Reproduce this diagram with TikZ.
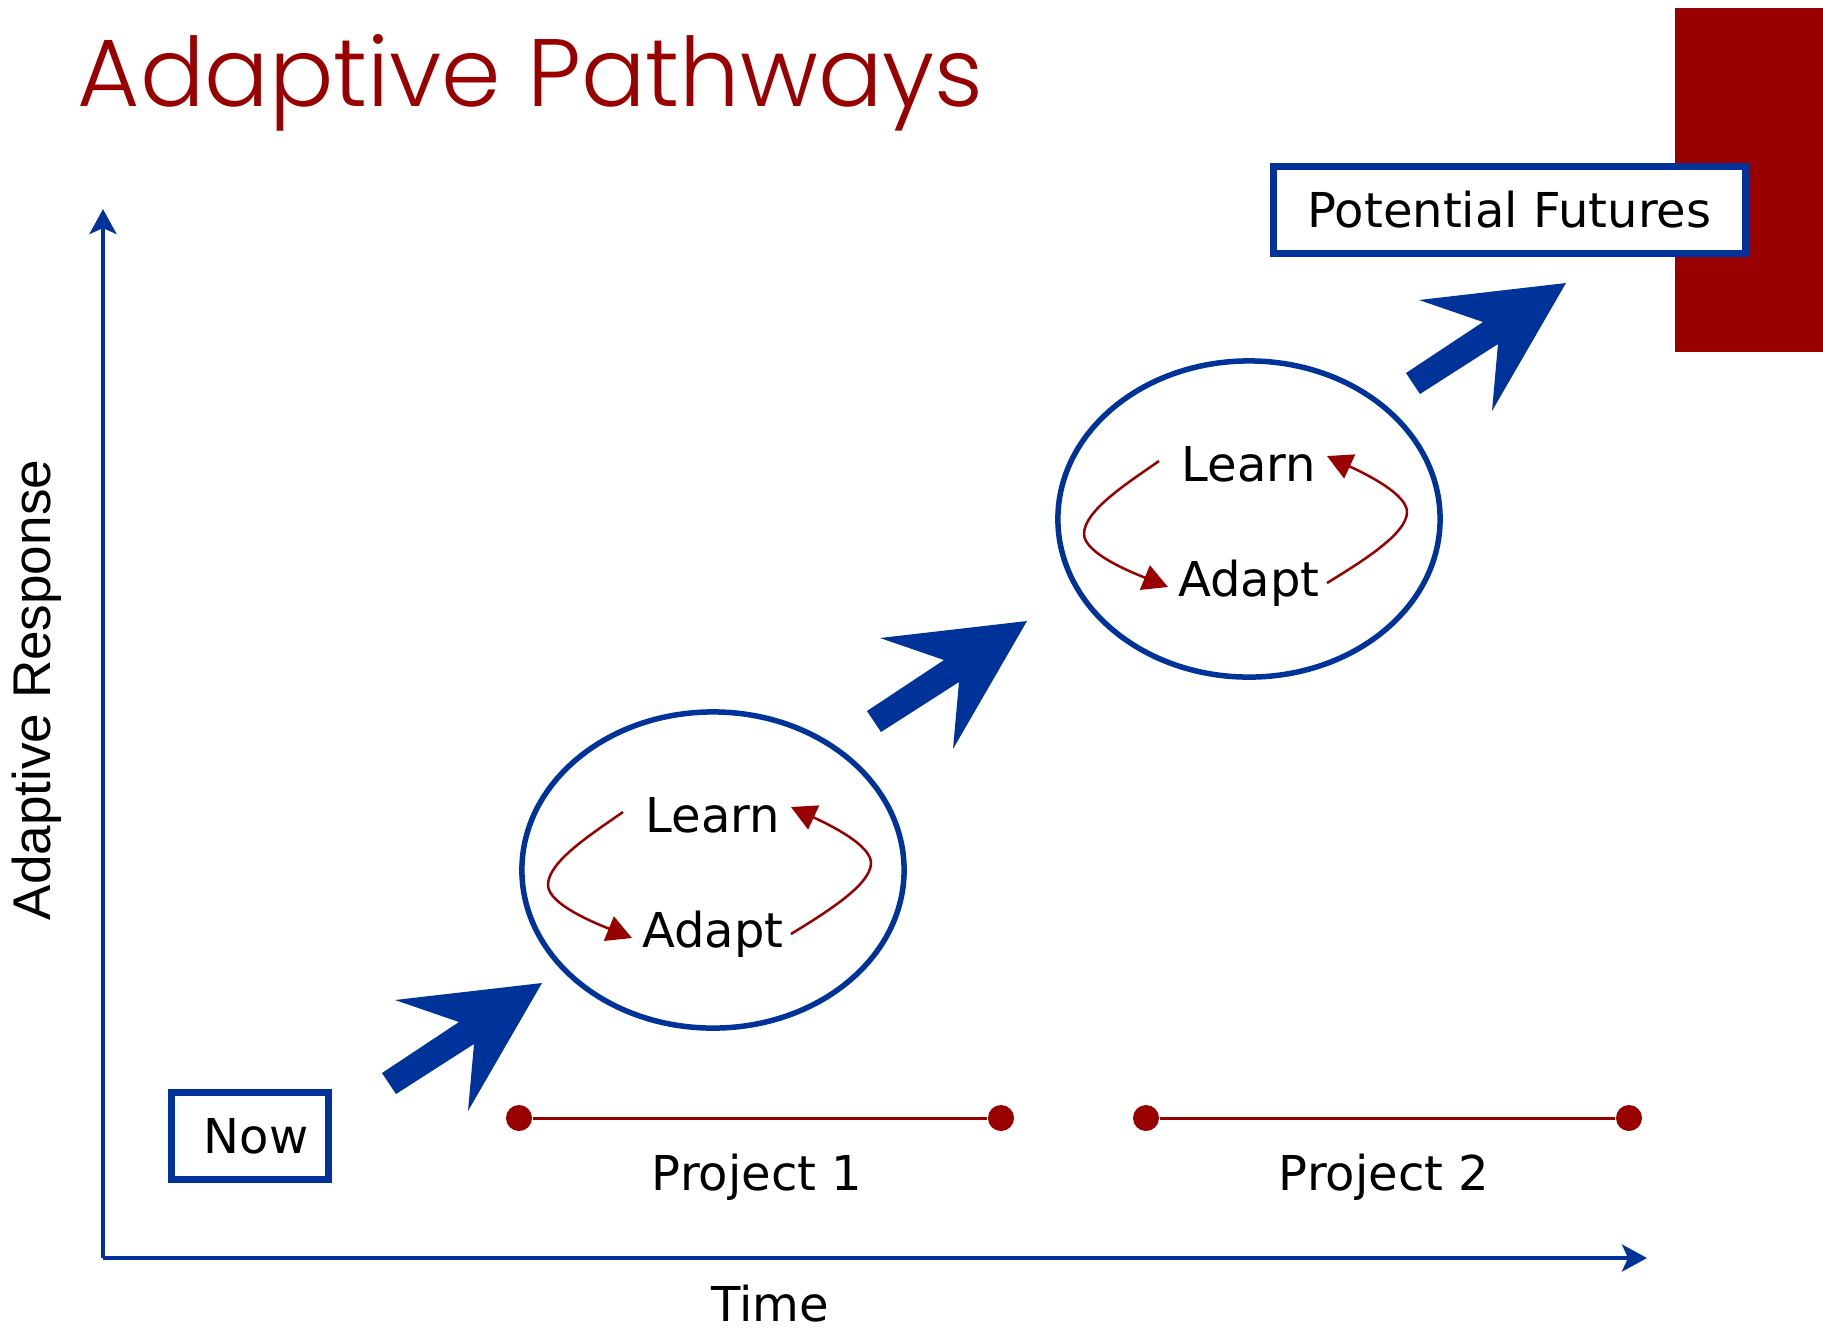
\documentclass[tikz,border=0pt]{standalone}
\usepackage{fontspec}
\setmainfont{DejaVu Sans}
\newfontfamily\arialfont{Liberation Sans}
\newfontfamily\titlefont{Poppins Light}
\usetikzlibrary{arrows.meta,shapes.geometric}
\definecolor{pblue}{RGB}{0,51,153}
\definecolor{pred}{RGB}{153,0,0}
\tikzset{
  bodytext/.style={font=\fontsize{13.66pt}{16pt}\selectfont, text=black, inner sep=0pt},
  labelbox/.style={draw=pblue, line width=0.07cm, fill=white, inner sep=0pt,
    font=\fontsize{13.66pt}{16pt}\selectfont},
  loopnode/.style={draw=pblue, line width=0.055cm, ellipse, inner sep=0pt,
    minimum width=3.82cm, minimum height=3.16cm},
  loopcurve/.style={draw=pred, line width=0.025cm, -{Triangle[length=0.25cm,width=0.26cm]}},
  axisline/.style={draw=pblue, line width=0.04cm, -{Stealth[length=0.25cm,width=0.27cm,inset=0.06cm]}},
  projdot/.style={circle, fill=pred, minimum size=0.26cm, inner sep=0pt},
  projspan/.style={draw=pred, line width=0.03cm},
}
\begin{document}
\begin{tikzpicture}[x=0.01cm,y=-0.01cm]
\useasboundingbox (0,0) rectangle (1823,1329);

% red side bar
\fill[pred] (1675,8) rectangle (1823,352);

% title
\node[anchor=base west, inner sep=0pt, text=pred] (title) at (77,106)
  {\titlefont\resizebox{9.05cm}{0.72cm}{Adaptive Pathways}};

% axes
\coordinate (O) at (103,1258);
\coordinate (ytop) at (103,209);
\coordinate (xend) at (1647,1258);
\draw[axisline] (O) -- (ytop);
\draw[axisline] (O) -- (xend);
\node[rotate=90, inner sep=0pt, font=\arialfont\fontsize{15.1pt}{18pt}\selectfont] (ylab) at (37,690) {Adaptive Response};
\node[bodytext, anchor=base] (xlab) at (770,1321) {Time};

% boxes
\node[labelbox, minimum width=1.57cm, minimum height=0.87cm] (now) at (250,1136) {\hspace{0.12cm}Now};
\node[labelbox, minimum width=4.72cm, minimum height=0.87cm] (futures) at (1509.5,210) {Potential Futures};

% project spans
\node[projdot] (p1a) at (519,1118) {};
\node[projdot] (p1b) at (1001,1118) {};
\node[projdot] (p2a) at (1146,1118) {};
\node[projdot] (p2b) at (1629,1118) {};
\draw[projspan] (p1a) -- (p1b);
\draw[projspan] (p2a) -- (p2b);
\node[bodytext, anchor=base] (proj1) at (757,1190) {Project 1};
\node[bodytext, anchor=base] (proj2) at (1384,1190) {Project 2};

% big block arrows
\foreach \dx/\dy in {0/0,485/-362,1024/-700}{
  \fill[pblue, shift={(\dx,\dy)}] (382,1073) -- (459,1022) -- (395,1000) -- (542,983)
     -- (468,1111) -- (474,1044) -- (396,1094) -- cycle;
}

% learn/adapt loops
\foreach \i/\dx/\dy in {1/0/0,2/536/-351}{
  \begin{scope}[shift={(713+\dx,870+\dy)}]
    \node[loopnode] (e\i) at (0,0) {};
    \node[bodytext, anchor=base] (l\i) at (0,-38) {Learn};
    \node[bodytext, anchor=base] (a\i) at (0,77) {Adapt};
    \coordinate (ls\i) at (-90,-58);
    \coordinate (ae\i) at (-81,68);
    \coordinate (as\i) at (78,64);
    \coordinate (le\i) at (78,-63);
    \draw[loopcurve] (ls\i) .. controls (-123,-35) and (-165,-8) .. (-165,15)
       .. controls (-165,35) and (-113,55) .. (ae\i);
    \draw[loopcurve] (as\i) .. controls (112,43) and (158,15) .. (158,-7)
       .. controls (158,-25) and (117,-45) .. (le\i);
  \end{scope}
}
\end{tikzpicture}
\end{document}
